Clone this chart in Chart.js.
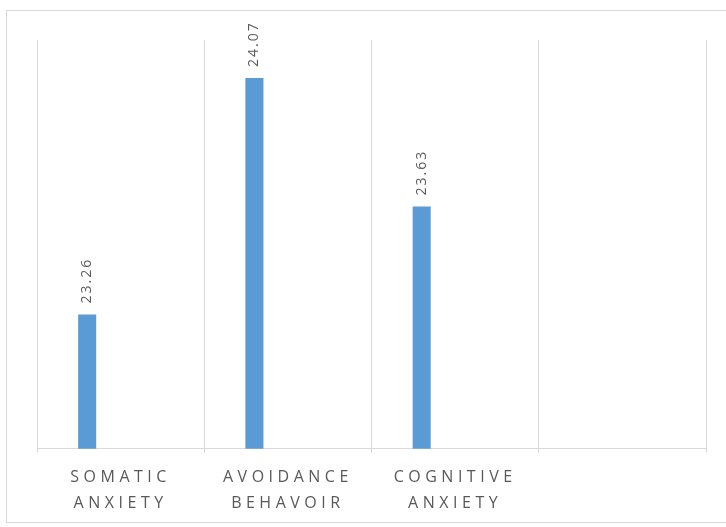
<!DOCTYPE html>
<html>
<head>
<meta charset="utf-8">
<script src="https://cdn.jsdelivr.net/npm/chart.js@4.4.1/dist/chart.umd.min.js"></script>
<style>
  html, body { margin: 0; padding: 0; background: #fff; overflow: hidden; }
  #frame { position: absolute; left: 6px; top: 10px; width: 800px; height: 513px; border: 1px solid #d9d9d9; border-right: none; box-sizing: border-box; }
  #wrap { position: absolute; left: 0; top: 0; width: 726px; height: 527px; }
</style>
</head>
<body>
<div id="frame"></div>
<div id="wrap"><canvas id="grafico"></canvas></div>
<script>
const categorias = [["SOMATIC", "ANXIETY"], ["AVOIDANCE", "BEHAVOIR"], ["COGNITIVE", "ANXIETY"], ""];
const puntajes = [23.26, 24.07, 23.63, null];
const vacio = [null, null, null, null];

const etiquetasValor = {
  id: 'etiquetasValor',
  beforeDraw(chart) {
    chart.ctx.letterSpacing = '4.5px';
  },
  afterDatasetsDraw(chart) {
    const ctx = chart.ctx;
    const meta = chart.getDatasetMeta(0);
    ctx.save();
    ctx.letterSpacing = '2px';
    ctx.font = '14px "Open Sans"';
    ctx.fillStyle = '#595959';
    ctx.textAlign = 'left';
    ctx.textBaseline = 'middle';
    meta.data.forEach((bar, i) => {
      const v = puntajes[i];
      if (v == null) return;
      ctx.save();
      ctx.translate(bar.x, bar.y - 11);
      ctx.rotate(-Math.PI / 2);
      ctx.fillText(v.toFixed(2), 0, 0);
      ctx.restore();
    });
    ctx.restore();
    ctx.letterSpacing = '4.5px';
  }
};

const ctx = document.getElementById('grafico').getContext('2d');
new Chart(ctx, {
  type: 'bar',
  data: {
    labels: categorias,
    datasets: [
      { label: 'Puntaje', data: puntajes, backgroundColor: '#5b9bd5', categoryPercentage: 0.8, barPercentage: 0.27 },
      { label: '', data: vacio, backgroundColor: '#ed7d31', categoryPercentage: 0.8, barPercentage: 0.27 }
    ]
  },
  options: {
    responsive: true,
    maintainAspectRatio: false,
    animation: false,
    layout: { padding: { left: 37, right: 20, top: 40, bottom: -1 } },
    plugins: { legend: { display: false }, tooltip: { enabled: false } },
    scales: {
      x: {
        grid: { color: '#d9d9d9', tickLength: 4, offset: true },
        border: { color: '#d9d9d9' },
        ticks: {
          color: '#595959',
          font: { family: '"Open Sans"', size: 16, lineHeight: 1.6 },
          maxRotation: 0,
          autoSkip: false,
          padding: 12
        }
      },
      y: { display: false, min: 22.8, max: 24.2 }
    }
  },
  plugins: [etiquetasValor]
});
</script>
</body>
</html>
